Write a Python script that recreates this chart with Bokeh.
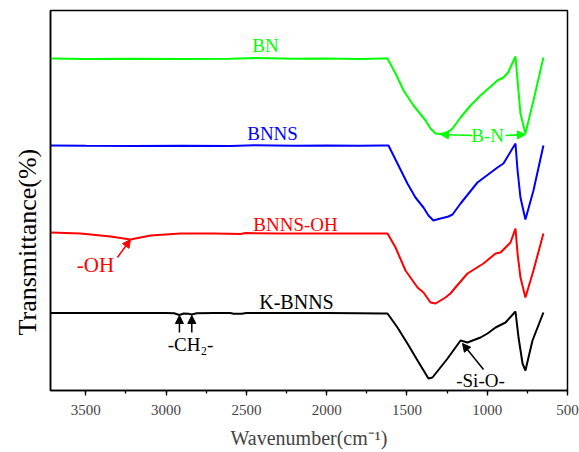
from bokeh.plotting import figure
from bokeh.models import Range1d, SingleIntervalTicker, FixedTicker, Label, Arrow, NormalHead, Title
from bokeh.embed import file_html
from bokeh.resources import INLINE

FONT = "Liberation Serif"

# Wavenumber (cm^-1) and offset transmittance (a.u.) for each spectrum
bn_wn = [3720, 3500, 3200, 2900, 2600, 2450, 2200, 2000, 1800, 1650, 1621, 1571, 1521, 1459, 1384, 1353,
         1322, 1290, 1247, 1216, 1166, 1104, 1042, 936, 899, 870, 824, 811, 793, 762, 712, 650]
bn_t = [332, 331.5, 331.7, 331.4, 331.8, 332.4, 331.7, 331.9, 331.6, 332, 332, 317, 300, 285, 270, 262,
        257, 256.5, 258, 262, 273, 285, 295, 310, 313, 318, 334, 310, 277, 257, 290, 333]

bnns_wn = [3720, 3500, 3200, 2900, 2600, 2450, 2200, 2000, 1800, 1650, 1615, 1559, 1497, 1447, 1397, 1366,
           1335, 1291, 1241, 1216, 1166, 1061, 936, 899, 824, 811, 793, 762, 712, 650]
bnns_t = [245, 244.7, 244.5, 244.8, 244.6, 245.2, 244.7, 244.9, 244.7, 245, 245, 227, 207, 193, 183, 175,
          170, 172, 174, 176, 187, 208, 223, 227, 247, 220, 193, 171, 200, 245]

bnnsoh_wn = [3720, 3533, 3346, 3222, 3097, 2910, 2700, 2537, 2505, 2300, 2000, 1800, 1650, 1621, 1571, 1509,
             1434, 1397, 1353, 1322, 1260, 1229, 1198, 1123, 1023, 948, 917, 855, 824, 811, 793, 762, 712, 650]
bnnsoh_t = [158, 157, 154, 151, 155, 157, 157, 156.5, 157.5, 157, 157, 157, 157, 157, 143, 120,
            103, 98, 88, 87, 93, 97, 103, 117, 127, 137, 138, 148, 162, 137, 113, 93, 120, 157]

kbnns_wn = [3720, 3500, 3200, 3000, 2950, 2917, 2890, 2860, 2840, 2810, 2700, 2600, 2580, 2530, 2500, 2200,
            2000, 1800, 1650, 1621, 1559, 1497, 1434, 1366, 1341, 1247, 1166, 1123, 1042, 998, 948, 886,
            824, 805, 780, 762, 743, 718, 650]
kbnns_t = [77.5, 77.5, 77.5, 77.5, 77.3, 75.5, 77, 76.8, 76, 77.2, 77.4, 77.4, 76.8, 76.8, 77.5, 77.4,
           77.5, 77.2, 77, 77, 63, 47, 30, 12, 13, 32, 50, 48, 53, 57, 63, 68,
           79, 53, 27, 20, 33, 50, 78]

series = [
    ("BN", bn_wn, bn_t, "#00ff00"),
    ("BNNS", bnns_wn, bnns_t, "#0000ff"),
    ("BNNS-OH", bnnsoh_wn, bnnsoh_t, "#ff0000"),
    ("K-BNNS", kbnns_wn, kbnns_t, "#000000"),
]

# label text, x (wavenumber), y (a.u.), colour, size
labels = [
    ("BN", 2381, 345, "#00ff00", "19px"),
    ("BNNS", 2337, 257, "#0000ff", "19px"),
    ("BNNS-OH", 2194, 166, "#ff0000", "19px"),
    ("-OH", 3440, 126, "#ff0000", "21px"),
    ("K-BNNS", 2188, 89, "#000000", "20px"),
    ("-CH\u2082-", 2848, 46, "#000000", "19px"),
    ("-Si-O-", 1042, 10, "#000000", "19px"),
    ("B-N", 998, 255, "#00ff00", "19px"),
]

# arrows: x_start, y_start, x_end, y_end, colour
arrows = [
    (1092, 255, 1291, 256, "#00ff00"),
    (886, 255, 762, 256, "#00ff00"),
    (3303, 133, 3222, 151, "#ff0000"),
    (2917, 58, 2917, 75, "#000000"),
    (2840, 58, 2840, 75, "#000000"),
    (1023, 21, 1154, 47, "#000000"),
]

p = figure(width=579, height=452, output_backend="svg", toolbar_location=None,
           x_range=Range1d(3720, 500), y_range=Range1d(0, 380),
           min_border_left=50, min_border_right=12, min_border_top=10, min_border_bottom=62)
p.background_fill_color = "white"
p.border_fill_color = "white"
p.grid.visible = False
p.outline_line_color = "black"
p.outline_line_width = 1.5

for name, wn, t, col in series:
    p.line(wn, t, line_color=col, line_width=2)

xa = p.xaxis[0]
xa.ticker = SingleIntervalTicker(interval=500, num_minor_ticks=2)
xa.axis_label = "Wavenumber(cm\u207b\u00b9)"
xa.axis_label_text_font = FONT
xa.axis_label_text_font_style = "normal"
xa.axis_label_text_font_size = "20px"
xa.axis_label_standoff = 9
xa.major_label_text_font = FONT
xa.major_label_text_font_size = "15px"
xa.major_label_standoff = 9
xa.major_tick_out = 5
xa.major_tick_in = 0
xa.minor_tick_out = 3
xa.minor_tick_in = 0
xa.axis_line_width = 1.5
xa.major_tick_line_width = 1.3
xa.minor_tick_line_width = 1.3

ya = p.yaxis[0]
ya.ticker = FixedTicker(ticks=[])
ya.axis_line_width = 1.5
ya.major_tick_line_color = None
ya.minor_tick_line_color = None
ya.major_label_text_font_size = "0px"

# y-axis title as a side title so that it can be shifted below centre, as in the reference
p.add_layout(Title(text="Transmittance(%)", align="left", offset=55,
                   text_font=FONT, text_font_size="26px", text_font_style="normal",
                   text_color="black", standoff=18), "left")

for txt, x, y, col, size in labels:
    p.add_layout(Label(x=x, y=y, text=txt, text_color=col, text_font=FONT,
                       text_font_size=size, text_align="center", text_baseline="middle"))

for xs, ys, xe, ye, col in arrows:
    p.add_layout(Arrow(end=NormalHead(size=8, fill_color=col, line_color=col),
                       x_start=xs, y_start=ys, x_end=xe, y_end=ye,
                       line_color=col, line_width=1.5))

open("out.html", "w").write(file_html(p, INLINE))
